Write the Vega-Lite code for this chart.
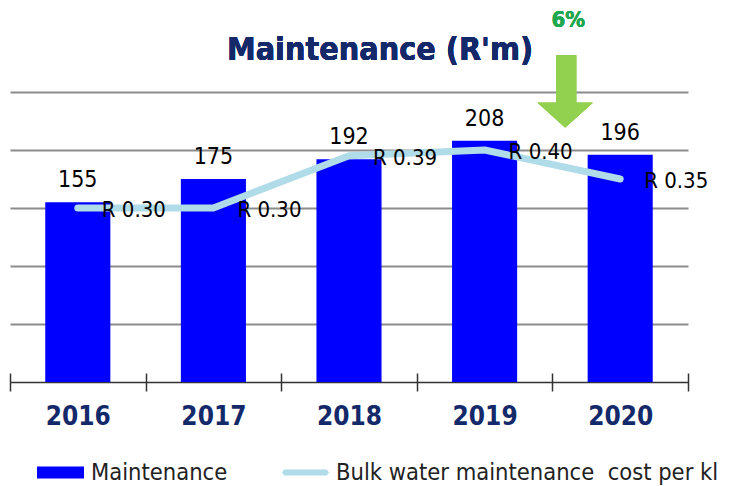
{
  "$schema": "https://vega.github.io/schema/vega-lite/v6.json",
  "width": 678,
  "height": 290,
  "autosize": {"type": "none"},
  "padding": {"left": 10, "top": 92, "right": 48, "bottom": 104},
  "background": "white",
  "config": {"view": {"stroke": null}, "font": "DejaVu Sans Condensed"},
  "data": {"values": [
    {"year": "2016", "maintenance": 155, "cost": 0.30},
    {"year": "2017", "maintenance": 175, "cost": 0.30},
    {"year": "2018", "maintenance": 192, "cost": 0.39},
    {"year": "2019", "maintenance": 208, "cost": 0.40},
    {"year": "2020", "maintenance": 196, "cost": 0.35}
  ]},
  "encoding": {
    "x": {"field": "year", "type": "ordinal", "scale": {"paddingInner": 0, "paddingOuter": 0},
      "axis": {"title": null, "labelAngle": 0, "labelFont": "DejaVu Sans Condensed", "labelFontSize": 26, "labelFontWeight": "bold", "labelColor": "#13296a", "domain": false, "ticks": true, "tickSize": 18, "tickColor": "#333333", "tickWidth": 1.5, "tickBand": "extent", "offset": -9, "labelPadding": 12}}
  },
  "layer": [
    {
      "layer": [
        {
          "mark": {"type": "bar", "color": "#0000ff", "width": {"band": 0.48}},
          "encoding": {
            "y": {"field": "maintenance", "type": "quantitative", "scale": {"domain": [0, 250], "nice": false},
              "axis": {"values": [0, 50, 100, 150, 200, 250], "labels": false, "ticks": false, "domain": false, "title": null, "grid": true,
                "gridColor": {"condition": {"test": "datum.value === 0", "value": "#333333"}, "value": "#8c8c8c"},
                "gridWidth": {"condition": {"test": "datum.value === 0", "value": 1.5}, "value": 2}}},
            "color": {"datum": "Maintenance", "type": "nominal",
              "scale": {"domain": ["Maintenance", "Bulk water maintenance\u00a0 cost per kl"], "range": ["#0000ff", "#b0dbe8"]},
              "legend": {"title": null, "orient": "none", "legendX": 27, "legendY": 357, "direction": "horizontal",
                "labelFont": "DejaVu Sans Condensed", "labelFontSize": 23.5, "labelColor": "#222222", "labelOffset": 7, "columnPadding": 54, "labelLimit": 0,
                "symbolSize": 2209, "symbolStrokeWidth": 0,
                "encode": {"symbols": {"update": {
                  "shape": {"signal": "datum.value === 'Maintenance' ? 'M-1,-0.26H1V0.26H-1Z' : 'M-0.9,-0.13H0.9L1,0L0.9,0.13H-0.9L-1,0Z'"},
                  "fill": {"signal": "datum.value === 'Maintenance' ? '#0000ff' : '#b0dbe8'"},
                  "strokeWidth": {"value": 0},
                  "opacity": {"value": 1}
                }}}}}
          }
        },
        {
          "mark": {"type": "text", "baseline": "alphabetic", "dy": -15, "fontSize": 23, "color": "#000000"},
          "encoding": {
            "y": {"field": "maintenance", "type": "quantitative"},
            "text": {"field": "maintenance", "type": "quantitative"}
          }
        },
        {
          "mark": {"type": "text", "text": "Maintenance (R'm)", "fontSize": 32, "fontWeight": "bold", "color": "#13296a", "xOffset": 31, "baseline": "alphabetic", "align": "center"},
          "encoding": {"x": {"datum": "2018"}, "y": {"datum": 278}}
        },
        {
          "mark": {"type": "rule", "color": "#92d050", "strokeWidth": 20, "xOffset": -54},
          "encoding": {"x": {"datum": "2020"}, "y": {"datum": 282}, "y2": {"datum": 240}}
        },
        {
          "mark": {"type": "point", "shape": "M-1,-0.45L1,-0.45L0,0.45Z", "filled": true, "opacity": 1, "color": "#92d050", "size": 3025, "xOffset": -55, "strokeWidth": 0},
          "encoding": {"x": {"datum": "2020"}, "y": {"datum": 230}}
        },
        {
          "mark": {"type": "text", "text": "6%", "fontSize": 22, "fontWeight": "bold", "color": "#1fa84f", "xOffset": -52, "baseline": "middle"},
          "encoding": {"x": {"datum": "2020"}, "y": {"datum": 312}}
        }
      ]
    },
    {
      "layer": [
        {
          "mark": {"type": "line", "color": "#b0dbe8", "strokeWidth": 7, "strokeCap": "round", "strokeJoin": "round"},
          "encoding": {
            "y": {"field": "cost", "type": "quantitative", "scale": {"domain": [0, 0.5], "nice": false}, "axis": null},
            "color": {"datum": "Bulk water maintenance\u00a0 cost per kl", "type": "nominal"}
          }
        },
        {
          "mark": {"type": "text", "align": "left", "baseline": "middle", "dx": 24, "dy": 2, "fontSize": 22, "color": "#000000",
            "text": {"expr": "'R ' + format(datum.cost, '.2f')"}},
          "encoding": {
            "y": {"field": "cost", "type": "quantitative"}
          }
        }
      ]
    }
  ],
  "resolve": {"scale": {"y": "independent"}}
}
